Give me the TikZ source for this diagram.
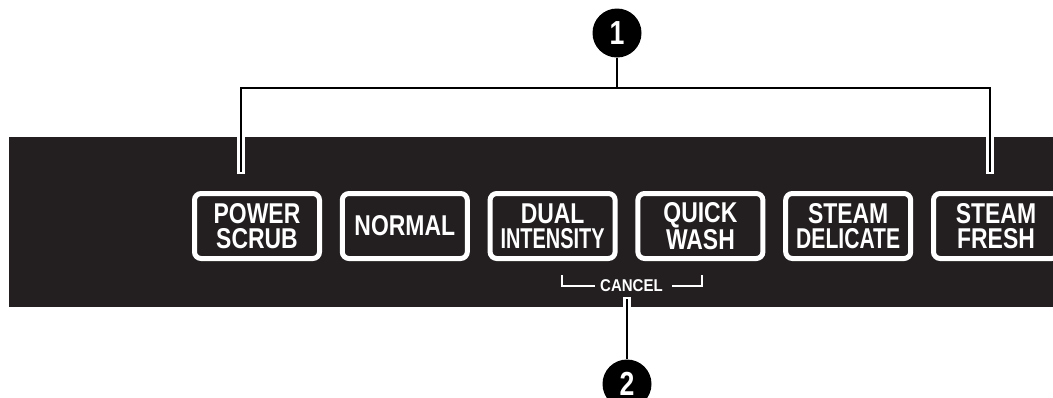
\documentclass[tikz,border=0pt]{standalone}
\usepackage{fontspec}
\usepackage{graphicx}
\usetikzlibrary{positioning}
\newfontfamily\panelfont[FakeStretch=0.8]{Liberation Sans}
\newcommand{\squeeze}[2]{\scalebox{#1}[1]{#2}}
\definecolor{panel}{HTML}{231F20}

\begin{document}
\begin{tikzpicture}[x=0.75pt,y=-0.75pt,node distance=110.85pt]
        \tikzstyle{key}=[draw=white,line width=3.75pt,rounded corners=5pt,
          minimum width=93.75pt,minimum height=48.75pt,inner sep=0pt,
          text=white,align=center,
          font=\panelfont\bfseries\fontsize{21.5}{18.75}\selectfont]
        \tikzstyle{callout}=[circle,fill=black,minimum size=36.75pt,inner sep=0pt,
          text=white,font=\panelfont\bfseries\fontsize{25}{25}\selectfont]
        \tikzstyle{casing}=[white,line width=6pt]
        \tikzstyle{lead}=[black,line width=1.5pt]
        \tikzstyle{bracket}=[white,line width=1.1pt]
  \useasboundingbox (0,0) rectangle (1053,397);
  \clip (0,0) rectangle (1053,397);
  \fill[panel] (9,137) rectangle (1070,307);

  \node[key] (ps) at (257,226) {POWER\\SCRUB};
  \node[key] (nm) [right of=ps] {NORMAL};
  \node[key] (di) [right of=nm] {DUAL\\\squeeze{0.87}{INTENSITY}};
  \node[key] (qw) [right of=di] {QUICK\\WASH};
  \node[key] (sd) [right of=qw] {STEAM\\\squeeze{0.92}{DELICATE}};
  \node[key] (sf) [right of=sd] {STEAM\\FRESH};

  \node[text=white,inner sep=0pt,font=\panelfont\bfseries\fontsize{12.8}{12.8}\selectfont]
    (cancel) at (631.5,286) {\squeeze{1.1}{CANCEL}};
  \draw[bracket] ([xshift=-3.75pt]cancel.west) -| ([xshift=-28.5pt,yshift=8pt]cancel.west);
  \draw[bracket] ([xshift=6.75pt]cancel.east) -| ([xshift=29.25pt,yshift=8pt]cancel.east);

  \node[callout] (c1) at (617,33) {1};
  \node[callout] (c2) at (627,384) {2};

  \coordinate (brL) at (241,88);
  \coordinate (brR) at (990,88);
  \coordinate (endL) at (241,172);
  \coordinate (endR) at (990,172);
  \coordinate (endC) at (627,299);

  \draw[casing,shorten <=-1.5pt,shorten >=-1.5pt] (endL) -- (brL) -- (brR) -- (endR);
  \draw[lead] (endL) -- (brL) -- (brR) -- (endR);
  \draw[lead] (c1) -- (c1 |- brL);
  \draw[casing,shorten >=-1.5pt] (c2) -- (endC);
  \draw[lead] (c2) -- (endC);

\end{tikzpicture}
\end{document}
